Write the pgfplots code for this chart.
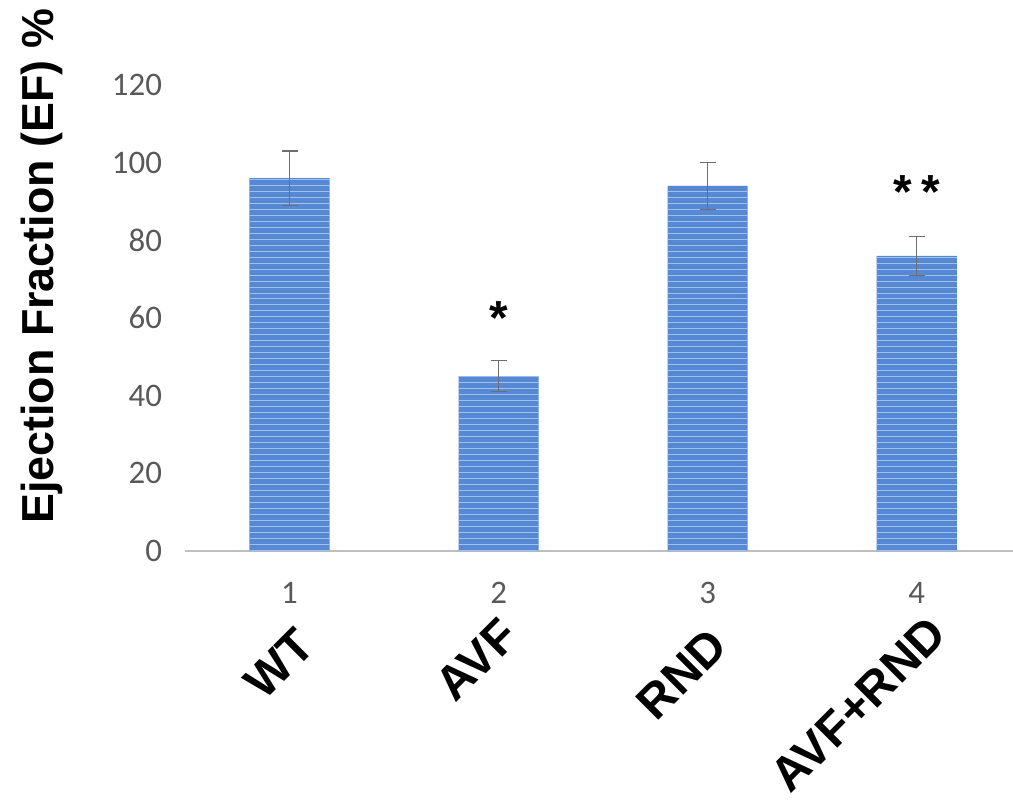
\documentclass[border=0pt]{standalone}
\usepackage{fontspec}
\setmainfont{Liberation Sans}
\newfontfamily\carlito{Carlito}
\usepackage{pgfplots}
\pgfplotsset{compat=1.18}
\usetikzlibrary{calc,patterns}
\definecolor{barblue}{RGB}{86,136,212}
\definecolor{stripe}{RGB}{160,192,238}
\definecolor{ticklab}{RGB}{89,89,89}
\definecolor{axisgray}{RGB}{191,191,191}
\definecolor{errgray}{RGB}{110,110,110}
\begin{document}
\begin{tikzpicture}
\useasboundingbox (-92.5bp,-125.5bp) rectangle (414bp,275.5bp);
\begin{axis}[
  anchor=south west, at={(0,0)},
  width=415bp, height=233bp, scale only axis,
  xmin=0.5, xmax=4.47, ymin=0, ymax=120,
  axis lines*=left,
  separate axis lines,
  y axis line style={draw=none},
  x axis line style={draw=axisgray, line width=1.2bp},
  tick style={draw=none},
  major tick length=0pt,
  xtick={1,2,3,4}, ytick={0,20,...,120},
  /pgf/number format/assume math mode=true,
  tick label style={font=\carlito\fontsize{16.5}{18}\selectfont, text=ticklab},
  xticklabel style={anchor=north, yshift=-12bp},
  yticklabel style={anchor=east, xshift=-8bp},
  clip=false,
]
\addplot[ybar, bar width=0.383, draw=none, fill=barblue,
  postaction={pattern=horizontal lines, pattern color=stripe},
  error bars/.cd, y dir=both, y explicit,
  error bar style={errgray, line width=0.6bp},
  error mark options={rotate=90, mark size=4bp, errgray, line width=0.6bp}]
  coordinates {(1,96) +- (0,7) (2,45) +- (0,4) (3,94) +- (0,6) (4,76) +- (0,5)};
\node[font=\bfseries\fontsize{24}{24}\selectfont] at (axis cs:2,60) {*};
\node[font=\bfseries\fontsize{24}{24}\selectfont] at (axis cs:4,92.5) {*\hspace{5bp}*};
\foreach \x/\lab/\dx/\dy in {1/WT/2/-37,2/AVF/-0.5/-32,3/RND/-0.5/-37,4/AVF+RND/4.5/-31}{
  \edef\tmp{\noexpand\node[rotate=45, anchor=north east, inner sep=0pt, font=\noexpand\bfseries\noexpand\fontsize{24}{24}\noexpand\selectfont] at ($(axis cs:\x,0)+(\dx bp,\dy bp)$) {\lab};}
  \tmp
}
\end{axis}
\node[rotate=90, font=\bfseries\fontsize{22.5}{22.5}\selectfont] at (-71.5bp,142.5bp) {Ejection Fraction (EF) \%};
\end{tikzpicture}
\end{document}
